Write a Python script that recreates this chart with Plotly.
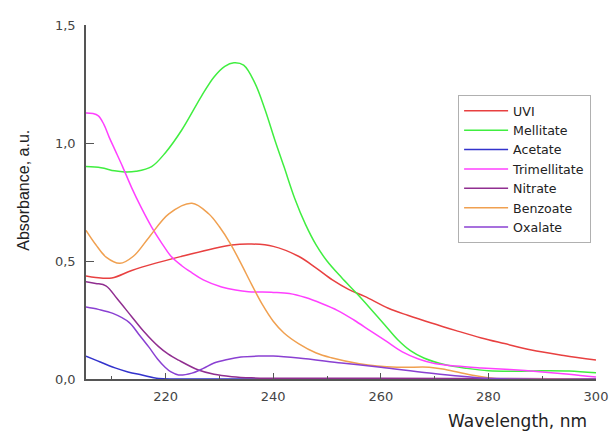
import plotly.graph_objects as go

# ---- data ----
uvi_x = [205.2, 207, 210, 213.7, 218, 223, 228, 232.3, 236, 240, 244.7, 248, 251, 254, 257, 261.4, 265, 269.4, 274, 278.7, 283, 288, 294, 300]
uvi_y = [0.436, 0.43, 0.428, 0.46, 0.49, 0.52, 0.548, 0.568, 0.572, 0.562, 0.52, 0.47, 0.42, 0.38, 0.35, 0.30, 0.27, 0.237, 0.205, 0.174, 0.15, 0.123, 0.10, 0.08]

mel_x = [205.2, 208, 210.5, 212.4, 214.5, 217.4, 220, 223, 226.7, 229, 231, 232.7, 234.5, 236.6, 238.5, 240.3, 242, 244, 246, 248, 250, 252.7, 255.5, 258, 260.7, 263.2, 265.5, 268, 272, 276, 280, 285, 290, 295, 300]
mel_y = [0.90, 0.895, 0.882, 0.877, 0.88, 0.90, 0.96, 1.055, 1.20, 1.28, 1.325, 1.34, 1.33, 1.254, 1.14, 1.013, 0.90, 0.765, 0.655, 0.567, 0.50, 0.43, 0.363, 0.30, 0.23, 0.165, 0.12, 0.089, 0.06, 0.045, 0.035, 0.033, 0.035, 0.034, 0.026]

ace_x = [205.2, 207, 210.6, 213, 215.6, 218.7, 222, 230, 300]
ace_y = [0.097, 0.08, 0.047, 0.03, 0.017, 0.002, 0.0, 0.0, 0.0]

tri_x = [205.2, 206.5, 207.5, 208.5, 209.5, 210.6, 212, 213.7, 215.5, 217.4, 219.3, 221, 223, 224.9, 227, 230.4, 233, 235.4, 240, 243, 246, 249, 252, 255, 258, 261, 264, 267, 270, 274, 278.7, 284, 290, 295, 300]
tri_y = [1.127, 1.125, 1.115, 1.08, 1.025, 0.97, 0.90, 0.81, 0.725, 0.644, 0.575, 0.52, 0.48, 0.45, 0.42, 0.39, 0.377, 0.37, 0.367, 0.362, 0.345, 0.32, 0.29, 0.25, 0.205, 0.16, 0.115, 0.085, 0.066, 0.055, 0.047, 0.04, 0.03, 0.02, 0.008]

nit_x = [205.2, 207, 208.9, 211, 213.7, 216, 218.7, 220.5, 222.4, 226.1, 229, 232.3, 236, 245, 260, 280, 300]
nit_y = [0.412, 0.405, 0.395, 0.34, 0.264, 0.20, 0.137, 0.105, 0.08, 0.038, 0.02, 0.01, 0.005, 0.003, 0.003, 0.002, 0.0]

ben_x = [205.2, 207, 209, 211.5, 214, 216.9, 220.6, 224.9, 228, 230, 232, 234, 236, 238, 240, 242, 244.7, 248, 250.8, 256, 263, 269, 272, 276.8, 282, 290, 300]
ben_y = [0.63, 0.57, 0.515, 0.49, 0.52, 0.60, 0.70, 0.745, 0.70, 0.645, 0.575, 0.49, 0.40, 0.315, 0.245, 0.195, 0.15, 0.11, 0.09, 0.065, 0.05, 0.05, 0.04, 0.017, 0.0, 0.0, 0.0]

oxa_x = [205.2, 207.5, 210.2, 213.2, 215, 216.9, 218.5, 219.9, 221, 222.4, 224.9, 227, 229, 231.5, 234, 237.3, 240, 244.7, 252.7, 260, 269, 278.7, 285, 300]
oxa_y = [0.305, 0.295, 0.278, 0.24, 0.19, 0.135, 0.085, 0.05, 0.03, 0.017, 0.025, 0.045, 0.068, 0.083, 0.093, 0.097, 0.097, 0.089, 0.068, 0.05, 0.025, 0.004, 0.0, 0.0]

series = [
    ("UVI", uvi_x, uvi_y, "#e84040"),
    ("Mellitate", mel_x, mel_y, "#40ee40"),
    ("Acetate", ace_x, ace_y, "#3333cc"),
    ("Trimellitate", tri_x, tri_y, "#ff40ff"),
    ("Nitrate", nit_x, nit_y, "#902e90"),
    ("Benzoate", ben_x, ben_y, "#f0a050"),
    ("Oxalate", oxa_x, oxa_y, "#8a40d2"),
]

x_ticks = [220, 240, 260, 280, 300]
x_minor = [210, 230, 250, 270, 290]
y_ticks = [0.0, 0.5, 1.0, 1.5]
y_tick_text = ["0,0", "0,5", "1,0", "1,5"]

ARIAL = "Liberation Sans, Arial, sans-serif"
WIDE = "DejaVu Sans, Verdana, sans-serif"

fig = go.Figure()
for name, xs, ys, col in series:
    fig.add_trace(go.Scatter(x=xs, y=ys, mode="lines", name=name,
                             line=dict(color=col, width=1.5, shape="spline", smoothing=1.0)))

fig.update_layout(
    width=620, height=432,
    margin=dict(l=86, r=14, t=25, b=53),
    paper_bgcolor="white", plot_bgcolor="white",
    font=dict(family=WIDE, size=13, color="#333333"),
    showlegend=True,
    legend=dict(x=0.7296, y=0.802, xanchor="left", yanchor="top",
                bordercolor="#b0b0b0", borderwidth=1, bgcolor="white",
                font=dict(family=WIDE, size=12.6, color="#222222"),
                tracegroupgap=0, itemwidth=44),
    xaxis=dict(range=[205.2, 300], showgrid=False, zeroline=False,
               showline=True, linecolor="#555555", linewidth=1.5,
               ticks="inside", ticklen=6, tickwidth=1.3, tickcolor="#555555",
               tickvals=x_ticks, ticktext=[str(v) for v in x_ticks],
               minor=dict(tickvals=x_minor, ticks="inside", ticklen=3, tickcolor="#555555", tickwidth=1.3),
               tickfont=dict(family=WIDE, size=13, color="#444444"), ticklabelstandoff=5),
    yaxis=dict(range=[0, 1.5], showgrid=False, zeroline=False,
               showline=True, linecolor="#555555", linewidth=1.5,
               ticks="inside", ticklen=8, tickwidth=1.3, tickcolor="#555555",
               tickvals=y_ticks, ticktext=y_tick_text,
               tickfont=dict(family=WIDE, size=13, color="#444444"), ticklabelstandoff=6),
)

fig.add_annotation(text="Wavelength, nm", xref="paper", yref="paper",
                   x=0.986, y=-0.119, xanchor="right", yanchor="middle",
                   showarrow=False, font=dict(family=WIDE, size=17, color="#222222"))
fig.add_annotation(text="Absorbance, a.u.", xref="paper", yref="paper",
                   x=-0.122, y=0.534, xanchor="center", yanchor="middle", textangle=-90,
                   showarrow=False, font=dict(family=ARIAL, size=16, color="#222222"))

fig.write_html("out.html")
